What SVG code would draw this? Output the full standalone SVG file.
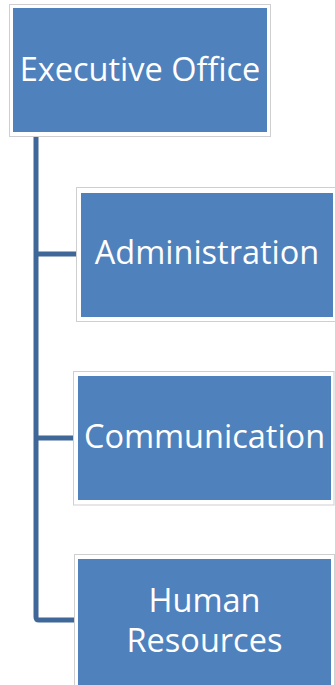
<svg xmlns="http://www.w3.org/2000/svg" width="335" height="685" viewBox="0 0 335 685">
<style>
.outer{fill:#ffffff;stroke:#cfcfcf;stroke-width:1}
.inner{fill:#4F81BD}
.lbl{font-family:"Open Sans","Liberation Sans",sans-serif;font-size:32.5px;fill:#ffffff;text-anchor:middle}
.conn{fill:none;stroke:#3F6798;stroke-width:5;stroke-linejoin:round}
</style>
<rect width="335" height="685" fill="#ffffff"/>
<g id="connectors">
<path class="conn" d="M36,136 V617 Q36,620 39,620 H75"/>
<path class="conn" d="M36,254 H77"/>
<path class="conn" d="M36,438 H74"/>
</g>
<g id="executive-office">
<rect class="outer" x="9.5" y="4.5" width="261" height="132"/>
<rect class="inner" x="13" y="8" width="254" height="124"/>
<text class="lbl" x="140" y="81">Executive Office</text>
</g>
<g id="administration">
<rect class="outer" x="76.5" y="187.5" width="262" height="134"/>
<rect class="inner" x="81" y="193" width="252" height="124"/>
<text class="lbl" x="207" y="264">Administration</text>
</g>
<g id="communication">
<rect class="outer" x="73.5" y="371.5" width="260.5" height="133.5"/>
<rect class="inner" x="78" y="376" width="253" height="124"/>
<text class="lbl" x="204.5" y="448">Communication</text>
</g>
<g id="human-resources">
<rect class="outer" x="74.5" y="554.5" width="260" height="140"/>
<rect class="inner" x="78" y="559" width="253" height="130"/>
<text class="lbl" x="204.5" y="612">Human</text>
<text class="lbl" x="204.5" y="652">Resources</text>
</g>
</svg>
